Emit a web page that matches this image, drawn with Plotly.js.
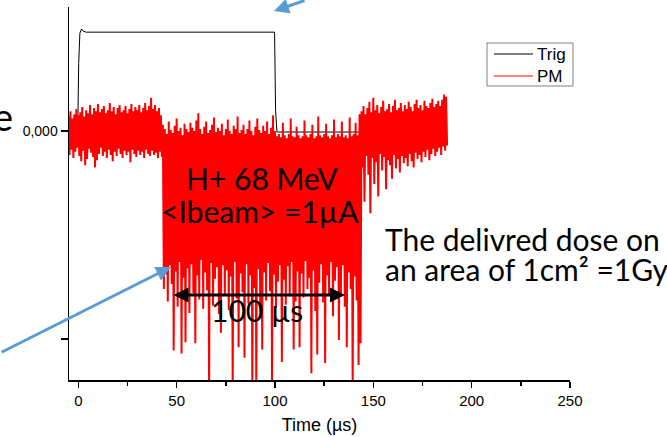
<!DOCTYPE html>
<html>
<head>
<meta charset="utf-8">
<script src="https://cdn.plot.ly/plotly-3.0.1.min.js"></script>
<style>html,body{margin:0;padding:0;background:#fff;}#chart{width:667px;height:437px;}</style>
</head>
<body>
<div id="chart"></div>
<script>
// ---- Data (mV) ----
// Trigger pulse
const trigTime = [-5, -0.3, 0.2, 0.8, 1.6, 2.5, 4, 99.8, 100.3, 101, 187];
const trigVal  = [0, 0, 6.5, 9.4, 9.8, 9.6, 9.5, 9.5, 2, -0.1, -0.1];

// PM signal: upper / lower excursion per 1 µs sample, starting at t = -5 µs
const pmStart = -5;
const pmStep = 1;
// before the beam (t = -5 ... 42)
const pmHiPre = [1.4,1.9,1.2,1.6,2.1,1.5,1.8,2.3,1.4,2.0, 1.7,2.5,1.6,2.2,1.9,2.6,1.8,2.1,2.4,1.7,
                 2.0,2.7,1.9,2.3,1.6,2.2,2.5,1.8,2.0,2.4, 1.7,2.1,2.6,1.9,2.3,2.0,2.5,1.8,2.2,2.7,
                 2.0,2.4,3.2,2.1,2.5,1.9,2.2,1.5];
const pmLoPre = [-2.3,-1.8,-2.6,-2.0,-1.6,-2.4,-2.9,-1.9,-3.3,-2.7, -1.7,-2.1,-2.5,-3.5,-2.8,-2.2,-1.6,-2.4,-2.0,-2.6,
                 -1.8,-2.3,-2.9,-2.0,-2.4,-1.7,-2.2,-2.6,-1.9,-2.3, -2.0,-3.0,-1.8,-2.2,-2.5,-1.9,-2.3,-2.0,-2.6,-1.8,
                 -2.2,-2.4,-1.9,-2.3,-2.1,-2.6,-2.0,-2.5];
// beam on (t = 43 ... 143)
const pmHiBeam = [0.6,0.2,-0.3,0.9,0.1,-0.2,0.5,1.2,0.0,0.3,
                  -0.4,0.7,0.2,-0.1,0.8,0.3,0.0,1.0,1.7,0.2,
                  -0.3,0.4,0.9,-0.2,0.1,0.6,1.3,-0.1,0.3,0.0,
                  0.7,-0.4,0.2,1.1,0.0,-0.3,0.5,0.2,1.4,-0.2,
                  0.1,0.6,-0.3,0.2,1.0,0.0,-0.4,0.4,1.2,0.1,
                  -0.2,0.5,0.0,0.9,-0.3,0.3,1.5,0.0,-0.5,-0.3,
                  -0.6,0.8,-0.4,-0.7,-0.3,1.2,-0.5,-0.6,0.4,-0.4,
                  -0.7,-0.5,1.0,-0.4,-0.6,-0.3,0.6,-0.7,-0.5,1.4,
                  -0.4,-0.6,-0.3,0.7,-0.5,-0.7,-0.4,1.1,-0.6,-0.3,
                  -0.5,0.9,-0.6,-0.4,-0.7,1.3,-0.5,-0.3,0.8,-0.4,
                  1.6];
const pmLoBeam = [-15.2,-13.8,-16.4,-12.9,-14.7,-21.1,-13.5,-16.9,-12.6,-21.4,
                  -14.1,-20.3,-13.2,-17.5,-12.8,-15.6,-20.4,-13.9,-16.2,-12.4,
                  -17.1,-13.6,-15.3,-25,-12.7,-16.8,-14.2,-13.1,-17.6,-19.4,
                  -12.9,-15.8,-13.4,-17.2,-14.0,-25,-12.6,-16.1,-20.8,-13.7,
                  -15.5,-21.8,-12.8,-16.6,-13.9,-25,-15.1,-25,-13.3,-17.4,
                  -21.0,-13.6,-16.3,-12.7,-15.4,-25,-13.8,-17.0,-14.5,-12.9,
                  -22.2,-14.3,-16.7,-13.0,-15.9,-12.6,-21.0,-16.4,-13.5,-20.8,
                  -13.7,-16.0,-12.5,-15.2,-14.1,-23.3,-13.4,-17.3,-21.5,-14.6,
                  -12.8,-16.5,-22.3,-13.9,-15.7,-12.6,-17.8,-14.4,-13.1,-20.1,
                  -15.8,-12.9,-16.9,-20.8,-13.6,-15.2,-25,-14.0,-16.3,-22.5,
                  -20.4];
// after the beam (t = 144 ... 187)
const pmHiPost = [1.9,2.4,1.6,2.2,2.8,1.8,3.2,2.0,2.5,1.7,
                  2.3,2.9,1.9,2.1,2.6,1.8,2.4,3.0,2.0,2.2,
                  2.7,1.9,2.5,2.1,2.8,2.3,1.9,2.6,3.0,2.2,
                  2.5,2.0,2.9,2.4,2.2,2.7,3.1,2.3,2.6,2.9,
                  2.4,3.0,3.5,3.3];
const pmLoPost = [-3.5,-6.8,-2.4,-4.2,-7.9,-2.6,-5.1,-3.0,-6.3,-2.2,
                  -3.8,-2.5,-5.6,-2.8,-3.3,-4.6,-2.3,-3.6,-2.7,-4.0,
                  -2.4,-3.1,-2.6,-3.4,-2.2,-2.9,-3.5,-2.1,-2.7,-2.3,
                  -3.0,-2.0,-2.5,-1.8,-2.8,-2.2,-1.7,-2.4,-2.0,-1.6,
                  -2.3,-1.5,-1.9,-1.4];

const seriesNames = ['Trig', 'PM'];
const xTickVals = [0, 50, 100, 150, 200, 250];
const xTickText = ['0', '50', '100', '150', '200', '250'];
const xMinorTicks = [25, 75, 125, 175, 225];
const yTickVals = [0, -20];
const yTickText = ['0,000', ''];

// ---- Build PM trace (each sample: upper then lower excursion) ----
const pmHi = pmHiPre.concat(pmHiBeam, pmHiPost);
const pmLo = pmLoPre.concat(pmLoBeam, pmLoPost);
const pmX = [], pmY = [];
for (let i = 0; i < pmHi.length; i++) {
  const t = pmStart + i * pmStep;
  pmX.push(t); pmY.push(pmHi[i]);
  pmX.push(t + pmStep / 2); pmY.push(pmLo[i]);
}

const trigColor = '#000000', pmColor = '#ff0000';
const traces = [
  {x: trigTime, y: trigVal, type: 'scatter', mode: 'lines', name: seriesNames[0],
   line: {color: trigColor, width: 1}},
  {x: pmX, y: pmY, type: 'scatter', mode: 'lines', name: seriesNames[1],
   line: {color: pmColor, width: 2}}
];

// plot area in pixels: x 69..570, y 7..380
const W = 501, H = 373, L = 69, B = 380;
const px = v => (v - L) / W;
const py = v => (B - v) / H;
const slideFont = {family: 'Lato, Carlito, Calibri, sans-serif', size: 30, color: '#000'};
const legFont = {family: 'Liberation Sans, Arial, sans-serif', size: 17, color: '#000'};
const blue = '#5B9BD5';

const layout = {
  width: 667, height: 437,
  margin: {l: 69, r: 97, t: 7, b: 57, pad: 0},
  paper_bgcolor: '#ffffff', plot_bgcolor: '#ffffff',
  font: {family: 'Liberation Sans, Arial, sans-serif', color: '#000', size: 15},
  showlegend: false,
  xaxis: {
    range: [-4.73, 250], showline: true, linecolor: '#000', linewidth: 1.5,
    showgrid: false, zeroline: false,
    tickmode: 'array', tickvals: xTickVals, ticktext: xTickText,
    ticks: 'outside', ticklen: 6, tickwidth: 1.5, tickcolor: '#000',
    tickfont: {size: 15},
    minor: {ticks: 'outside', ticklen: 4, tickwidth: 1.5, tickcolor: '#000', tickmode: 'array', tickvals: xMinorTicks, showgrid: false},
    title: {text: 'Time (µs)', font: {size: 18}, standoff: 11}
  },
  yaxis: {
    range: [-23.94, 11.92], showline: true, linecolor: '#000', linewidth: 1.5,
    showgrid: false, zeroline: false,
    tickmode: 'array', tickvals: yTickVals, ticktext: yTickText,
    ticks: 'outside', ticklen: 7, tickwidth: 1.5, tickcolor: '#000',
    tickfont: {size: 14}
  },
  shapes: [
    // legend box and samples
    {type: 'rect', xref: 'paper', yref: 'paper', x0: px(487), x1: px(573), y0: py(86), y1: py(43),
     line: {color: '#808080', width: 1}, fillcolor: '#ffffff'},
    {type: 'line', xref: 'paper', yref: 'paper', x0: px(494), x1: px(533), y0: py(54), y1: py(54),
     line: {color: trigColor, width: 1}},
    {type: 'line', xref: 'paper', yref: 'paper', x0: px(494), x1: px(533), y0: py(76), y1: py(76),
     line: {color: pmColor, width: 1}}
  ],
  annotations: [
    {xref: 'paper', yref: 'paper', x: px(535), y: py(55), xanchor: 'left', yanchor: 'middle',
     text: seriesNames[0], showarrow: false, font: legFont},
    {xref: 'paper', yref: 'paper', x: px(535), y: py(76), xanchor: 'left', yanchor: 'middle',
     text: seriesNames[1], showarrow: false, font: legFont},
    {xref: 'paper', yref: 'paper', x: px(15), y: py(116), xanchor: 'right', yanchor: 'middle',
     text: 'e', showarrow: false, font: {family: slideFont.family, size: 38, color: '#000'}},
    {xref: 'paper', yref: 'paper', x: px(262), y: py(178), xanchor: 'center', yanchor: 'middle',
     text: 'H+ 68 MeV', showarrow: false, font: slideFont},
    {xref: 'paper', yref: 'paper', x: px(260), y: py(211), xanchor: 'center', yanchor: 'middle',
     text: '&lt;Ibeam&gt; =1µA', showarrow: false, font: slideFont},
    {xref: 'paper', yref: 'paper', x: px(257), y: py(310), xanchor: 'center', yanchor: 'middle',
     text: '100 µs', showarrow: false, font: slideFont},
    {xref: 'paper', yref: 'paper', x: px(383), y: py(239), xanchor: 'left', yanchor: 'middle',
     text: 'The delivred dose on', showarrow: false, font: slideFont},
    {xref: 'paper', yref: 'paper', x: px(383), y: py(269), xanchor: 'left', yanchor: 'middle',
     text: 'an area of 1cm² =1Gy', showarrow: false, font: slideFont},
    // double-headed 100 µs arrow
    {xref: 'paper', yref: 'paper', x: px(345), y: py(295), ax: -173, ay: 0,
     text: '', showarrow: true, arrowhead: 2, startarrowhead: 2, arrowside: 'end+start',
     arrowsize: 1, startarrowsize: 1, arrowwidth: 3, arrowcolor: '#000'},
    // blue pointer arrows
    {xref: 'paper', yref: 'paper', x: px(171), y: py(267), ax: -175, ay: 86,
     text: '', showarrow: true, arrowhead: 2, arrowsize: 1, arrowwidth: 3, arrowcolor: blue},
    {xref: 'paper', yref: 'paper', x: px(274), y: py(11), ax: 32, ay: -22,
     text: '', showarrow: true, arrowhead: 2, arrowsize: 1, arrowwidth: 3, arrowcolor: blue}
  ]
};

Plotly.newPlot('chart', traces, layout, {displayModeBar: false, staticPlot: true});
</script>
</body>
</html>
